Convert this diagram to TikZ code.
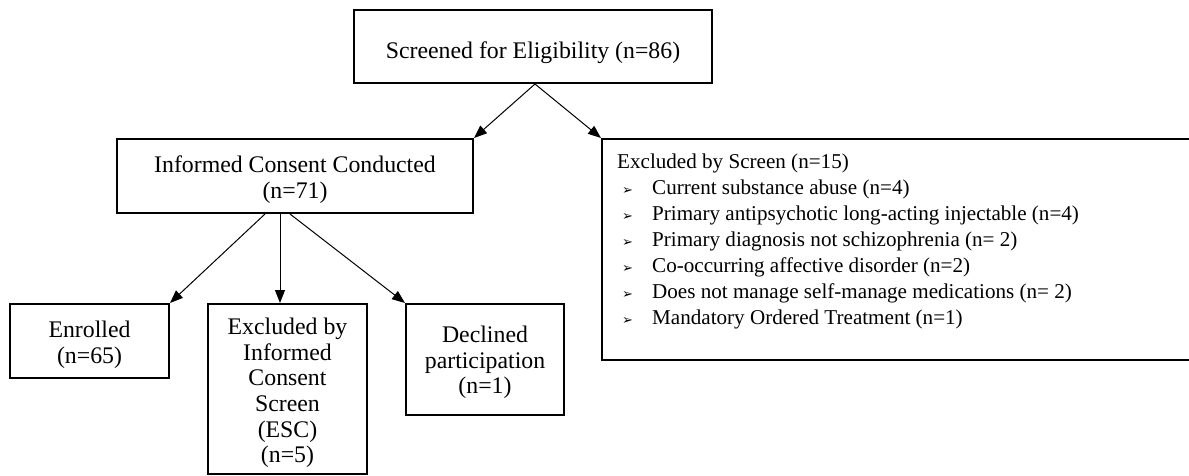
\documentclass[tikz,border=0pt]{standalone}
\usepackage{fontspec}
\setmainfont{Liberation Serif}
\newfontfamily\dejavu{DejaVu Sans}
\usetikzlibrary{arrows.meta,calc}
\newcommand{\bul}{\hspace*{5pt}\makebox[30pt][l]{\raisebox{0pt}{\dejavu\fontsize{13}{13}\selectfont ➢}}}
\newcommand{\dn}[1]{\rule{0pt}{#1pt}}
\begin{document}
\begin{tikzpicture}[x=1pt,y=-1pt,
  box/.style={draw, line width=2pt, inner sep=0pt, align=center,
    font=\fontsize{23.8}{25.6}\selectfont},
  txt/.style={inner sep=0pt, align=left, font=\fontsize{21.1}{26}\selectfont},
  arr/.style={line width=1pt, -{Triangle[length=13pt,width=10pt]}}]
\useasboundingbox (0,0) rectangle (1189,476);
\node[box, minimum width=358, minimum height=73] (scr) at (533,46.5) {\dn{28.5}Screened for Eligibility (n=86)};
\node[box, minimum width=356, minimum height=74] (ic) at (295,176) {\dn{24.5}Informed Consent Conducted\\(n=71)};
\node[box, minimum width=598, minimum height=221] (excl) at (901,249.5) {};
\node[txt, anchor=north west] (excltext) at (617,154) {Excluded by Screen (n=15)\\
\bul Current substance abuse (n=4)\\
\bul Primary antipsychotic long-acting injectable (n=4)\\
\bul Primary diagnosis not schizophrenia (n= 2)\\
\bul Co-occurring affective disorder (n=2)\\
\bul Does not manage self-manage medications (n= 2)\\
\bul Mandatory Ordered Treatment (n=1)};
\node[box, minimum width=159, minimum height=74] (enr) at (89.5,341) {\dn{24.5}Enrolled\\(n=65)};
\node[box, minimum width=159, minimum height=170] (ics) at (287.5,389) {\dn{24.5}Excluded by\\Informed\\Consent\\Screen\\(ESC)\\(n=5)};
\node[box, minimum width=158, minimum height=111] (dec) at (485,359.5) {\dn{22.5}Declined\\participation\\(n=1)};
\coordinate (scrout) at ($(scr.south)+(2,0)$);
\draw[arr] (scrout) -- (ic.north east);
\draw[arr] (scrout) -- (excl.north west);
\coordinate (icl) at ($(ic.south)+(-30,0)$);
\coordinate (icm) at ($(ic.south)+(-15,0)$);
\coordinate (icr) at ($(ic.south)+(-5,0)$);
\draw[arr] (icl) -- (enr.north east);
\draw[arr] (icm) -- (icm |- ics.north);
\draw[arr] (icr) -- (dec.north west);
\end{tikzpicture}
\end{document}
